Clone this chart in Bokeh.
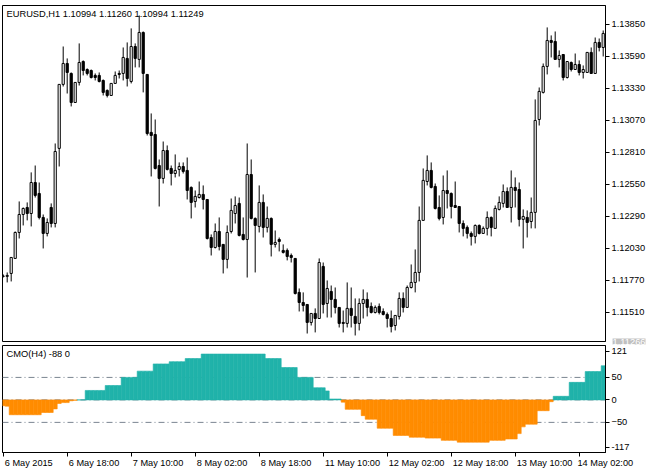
import json
from bokeh.plotting import figure
from bokeh.models import (Range1d, FixedTicker, NumeralTickFormatter, CustomJSTickFormatter,
                          Span, Label, Title, ColumnDataSource)
from bokeh.layouts import column
from bokeh.embed import file_html
from bokeh.resources import INLINE

# ---------------- data (EURUSD H1, 6 May 02:00 .. 14 May 08:00) ----------------
open_ = [
    1.11803, 1.11803, 1.11827, 1.11949, 1.12160, 1.12306, 1.12363, 1.12314, 1.12566, 1.12477,
    1.12282, 1.12152, 1.12363, 1.12233, 1.12843, 1.13363, 1.13533, 1.13452, 1.13216, 1.13379,
    1.13549, 1.13484, 1.13476, 1.13436, 1.13436, 1.13395, 1.13314, 1.13273, 1.13371, 1.13452,
    1.13452, 1.13574, 1.13387, 1.13671, 1.13566, 1.13785, 1.13444, 1.12973, 1.12956, 1.12704,
    1.12599, 1.12826, 1.12680, 1.12639, 1.12672, 1.12696, 1.12664, 1.12526, 1.12412, 1.12444,
    1.12469, 1.12428, 1.12119, 1.12038, 1.12168, 1.12063, 1.11941, 1.12168, 1.12314, 1.12396,
    1.12144, 1.12103, 1.12631, 1.12274, 1.12209, 1.12404, 1.12201, 1.12274, 1.12063, 1.12103,
    1.12014, 1.12014, 1.11973, 1.11949, 1.11673, 1.11591, 1.11575, 1.11429, 1.11502, 1.11461,
    1.11884, 1.11583, 1.11681, 1.11616, 1.11551, 1.11429, 1.11421, 1.11543, 1.11478, 1.11421,
    1.11583, 1.11616, 1.11559, 1.11510, 1.11559, 1.11518, 1.11494, 1.11461, 1.11404, 1.11478,
    1.11624, 1.11551, 1.11713, 1.11754, 1.11835, 1.12258, 1.12574, 1.12664, 1.12534, 1.12363,
    1.12282, 1.12501, 1.12477, 1.12379, 1.12371, 1.12233, 1.12201, 1.12152, 1.12128, 1.12217,
    1.12152, 1.12193, 1.12282, 1.12193, 1.12347, 1.12396, 1.12493, 1.12363, 1.12526, 1.12509,
    1.12266, 1.12282, 1.12249, 1.12323, 1.13078, 1.13298, 1.13509, 1.13720, 1.13712, 1.13566,
    1.13606, 1.13419, 1.13541, 1.13484, 1.13525, 1.13460, 1.13460, 1.13623, 1.13452, 1.13704,
    1.13663,
]
high = [
    1.11819, 1.11835, 1.11960, 1.12168, 1.12412, 1.12363, 1.12404, 1.12648, 1.12704, 1.12566,
    1.12306, 1.12274, 1.12396, 1.12883, 1.13365, 1.13671, 1.13574, 1.13460, 1.13381, 1.13696,
    1.13558, 1.13493, 1.13484, 1.13452, 1.13460, 1.13403, 1.13322, 1.13373, 1.13468, 1.13476,
    1.13663, 1.13704, 1.13818, 1.13696, 1.13923, 1.13793, 1.13446, 1.13127, 1.13078, 1.12753,
    1.12899, 1.12867, 1.12704, 1.12794, 1.12729, 1.12729, 1.12769, 1.12534, 1.12501, 1.12574,
    1.12542, 1.12430, 1.12144, 1.12233, 1.12282, 1.12065, 1.12217, 1.12436, 1.12453, 1.12444,
    1.12282, 1.12883, 1.12753, 1.12282, 1.12542, 1.12469, 1.12371, 1.12282, 1.12176, 1.12119,
    1.12063, 1.12030, 1.11989, 1.11951, 1.11705, 1.11673, 1.11577, 1.11504, 1.11543, 1.11949,
    1.11916, 1.11770, 1.11729, 1.11713, 1.11553, 1.11526, 1.11754, 1.11713, 1.11624, 1.11624,
    1.11697, 1.11673, 1.11591, 1.11567, 1.11583, 1.11543, 1.11510, 1.11526, 1.11488, 1.11673,
    1.11673, 1.11729, 1.11900, 1.12022, 1.12371, 1.12680, 1.12786, 1.12729, 1.12558, 1.12461,
    1.12623, 1.12664, 1.12485, 1.12574, 1.12373, 1.12258, 1.12217, 1.12168, 1.12225, 1.12225,
    1.12209, 1.12331, 1.12290, 1.12379, 1.12453, 1.12550, 1.12526, 1.12664, 1.12607, 1.12566,
    1.12347, 1.12339, 1.12444, 1.13241, 1.13338, 1.13533, 1.13826, 1.13761, 1.13793, 1.13639,
    1.13608, 1.13551, 1.13549, 1.13614, 1.13558, 1.13517, 1.13625, 1.13663, 1.13744, 1.13736,
    1.13801,
]
low = [
    1.11794, 1.11754, 1.11762, 1.11945, 1.12111, 1.12217, 1.12258, 1.12209, 1.12444, 1.12266,
    1.12030, 1.12128, 1.12201, 1.12201, 1.12696, 1.13346, 1.13289, 1.13184, 1.13214, 1.13354,
    1.13436, 1.13436, 1.13411, 1.13395, 1.13379, 1.13273, 1.13257, 1.13271, 1.13369, 1.13411,
    1.13395, 1.13346, 1.13371, 1.13501, 1.13501, 1.13298, 1.12948, 1.12615, 1.12672, 1.12371,
    1.12558, 1.12664, 1.12542, 1.12607, 1.12615, 1.12639, 1.12428, 1.12274, 1.12363, 1.12436,
    1.12347, 1.12103, 1.11973, 1.12030, 1.12014, 1.11827, 1.11868, 1.12152, 1.12233, 1.12128,
    1.12095, 1.11794, 1.12266, 1.11835, 1.12160, 1.12119, 1.12160, 1.11965, 1.12038, 1.12006,
    1.11989, 1.11933, 1.11916, 1.11656, 1.11518, 1.11518, 1.11339, 1.11404, 1.11348, 1.11459,
    1.11502, 1.11469, 1.11469, 1.11502, 1.11388, 1.11348, 1.11388, 1.11388, 1.11323, 1.11364,
    1.11461, 1.11478, 1.11502, 1.11502, 1.11494, 1.11486, 1.11388, 1.11348, 1.11364, 1.11453,
    1.11510, 1.11549, 1.11705, 1.11673, 1.11762, 1.12256, 1.12542, 1.12518, 1.12347, 1.12258,
    1.12225, 1.12355, 1.12274, 1.12361, 1.12160, 1.12128, 1.12111, 1.12054, 1.12071, 1.12144,
    1.12150, 1.12136, 1.12128, 1.12191, 1.12339, 1.12363, 1.12361, 1.12241, 1.12363, 1.12209,
    1.12030, 1.12119, 1.12193, 1.12193, 1.13029, 1.13289, 1.13444, 1.13582, 1.13564, 1.13501,
    1.13395, 1.13411, 1.13468, 1.13482, 1.13436, 1.13411, 1.13458, 1.13450, 1.13450, 1.13631,
    1.13590,
]
close = [
    1.11806, 1.11811, 1.11957, 1.12160, 1.12306, 1.12355, 1.12314, 1.12566, 1.12461, 1.12282,
    1.12152, 1.12241, 1.12233, 1.12818, 1.13363, 1.13533, 1.13460, 1.13216, 1.13379, 1.13541,
    1.13476, 1.13452, 1.13419, 1.13419, 1.13387, 1.13298, 1.13273, 1.13371, 1.13436, 1.13444,
    1.13582, 1.13411, 1.13671, 1.13574, 1.13785, 1.13452, 1.12964, 1.12948, 1.12680, 1.12599,
    1.12826, 1.12672, 1.12639, 1.12664, 1.12696, 1.12656, 1.12501, 1.12404, 1.12453, 1.12469,
    1.12428, 1.12111, 1.12038, 1.12168, 1.12046, 1.11941, 1.12160, 1.12339, 1.12379, 1.12136,
    1.12103, 1.12631, 1.12274, 1.12217, 1.12404, 1.12201, 1.12274, 1.12063, 1.12079, 1.12087,
    1.11998, 1.11965, 1.11957, 1.11664, 1.11591, 1.11567, 1.11429, 1.11502, 1.11461, 1.11916,
    1.11575, 1.11705, 1.11616, 1.11551, 1.11421, 1.11421, 1.11543, 1.11486, 1.11421, 1.11583,
    1.11616, 1.11551, 1.11510, 1.11551, 1.11510, 1.11494, 1.11461, 1.11396, 1.11486, 1.11624,
    1.11551, 1.11713, 1.11754, 1.11835, 1.12258, 1.12583, 1.12664, 1.12526, 1.12355, 1.12274,
    1.12501, 1.12477, 1.12371, 1.12363, 1.12233, 1.12193, 1.12152, 1.12128, 1.12217, 1.12152,
    1.12193, 1.12282, 1.12201, 1.12355, 1.12404, 1.12493, 1.12363, 1.12526, 1.12501, 1.12266,
    1.12290, 1.12241, 1.12323, 1.13070, 1.13306, 1.13509, 1.13720, 1.13704, 1.13566, 1.13598,
    1.13419, 1.13549, 1.13484, 1.13525, 1.13460, 1.13484, 1.13623, 1.13452, 1.13704, 1.13663,
    1.13777,
]
cmo = [
    -13, -14, -33, -33, -33, -33, -33, -33, -33, -33,
    -28, -28, -28, -20, -8, -6, -6, -2, -1, 0,
    0, 21, 21, 21, 21, 21, 32, 32, 32, 32,
    50, 50, 50, 50, 64, 64, 64, 64, 80, 80,
    80, 80, 85, 85, 85, 85, 92, 92, 92, 92,
    102, 102, 102, 102, 102, 102, 102, 102, 102, 102,
    102, 102, 102, 102, 102, 102, 92, 92, 92, 92,
    72, 72, 72, 72, 50, 50, 50, 50, 27, 27,
    27, 20, 2, 2, 2, -5, -21, -21, -21, -21,
    -35, -43, -43, -43, -63, -63, -63, -63, -79, -79,
    -79, -79, -83, -83, -83, -83, -85, -85, -85, -85,
    -90, -90, -90, -90, -94, -94, -94, -94, -94, -94,
    -94, -94, -90, -90, -90, -90, -87, -87, -87, -75,
    -60, -54, -54, -54, -24, -24, -24, -4, 8, 8,
    8, 8, 39, 39, 39, 39, 63, 63, 63, 63,
    76,
]
price_ticks = [1.13850, 1.13590, 1.13330, 1.13070, 1.12810, 1.12550, 1.12290, 1.12030, 1.11770, 1.11510]
cmo_levels = [50, 0, -50]
cmo_ticks = [108, 50, 0, -50, -105]
cmo_tick_labels = {108: "121", -105: "-117"}
date_ticks = [0, 16, 32, 48, 64, 80, 96, 112, 128, 144]
date_labels = ["6 May 2015", "6 May 18:00", "7 May 10:00", "8 May 02:00", "8 May 18:00",
               "11 May 10:00", "12 May 02:00", "12 May 18:00", "13 May 10:00", "14 May 02:00"]
title_text = "EURUSD,H1  1.10994 1.11260 1.10994 1.11249"
cmo_title = "CMO(H4) -88 0"
bid_price = 1.11266

# ---------------- styling / layout ----------------
FONT = "Liberation Sans"
FS_PX = 9.3
FS = f"{FS_PX}px"
DATE_PX = 9.2
W = 654
LB, RB = 2, 49
MAIN_TOP, MAIN_FRAME, MAIN_BOT = 5, 336, 4
MAIN_H = MAIN_TOP + MAIN_FRAME + MAIN_BOT
SUB_TOP, SUB_BOT = 0, 17
SUB_H = 470 - MAIN_H
UP, DN = "#20B2AA", "#FF8C00"
LEVEL = "#7a8591"
frame_w = W - LB - RB
X0 = -0.175
X1 = X0 + frame_w / 4.0
ppb = frame_w / (X1 - X0)
PRICE_LO = 1.11266 + 0.00008125  # one pixel row kept for the bottom edge
PRICE_HI = 1.14004

# left-aligned date labels: the axis centres each label, so centre it half a label width right of its tick
CW = {" ": 0.278, ":": 0.278, "M": 0.833, "a": 0.556, "y": 0.5}
def text_w(s):
    return sum(CW.get(ch, 0.556) for ch in s) * DATE_PX
label_pos = [min(k + (text_w(s) / 2 + 1.5) / ppb, X1 - 0.05) for k, s in zip(date_ticks, date_labels)]

idx = list(range(len(close)))
body_top = [max(o, c) for o, c in zip(open_, close)]
body_bot = [min(o, c) for o, c in zip(open_, close)]
body_fill = ["white" if c >= o else "black" for o, c in zip(open_, close)]
src = ColumnDataSource(dict(x=idx, o=open_, h=high, l=low, c=close,
                            bt=body_top, bb=body_bot, fill=body_fill))

xr = Range1d(X0, X1)

def style_axis(ax):
    ax.axis_line_color = "black"
    ax.major_tick_line_color = "black"
    ax.major_tick_in = 0
    ax.major_tick_out = 4
    ax.minor_tick_line_color = None
    ax.major_label_standoff = 2
    ax.major_label_text_font = FONT
    ax.major_label_text_font_size = FS
    ax.major_label_text_color = "black"

# ---------------- main (candles) ----------------
main = figure(width=W, height=MAIN_H, x_range=xr, y_range=Range1d(PRICE_LO, PRICE_HI),
              x_axis_location=None, y_axis_location="right",
              output_backend="svg", toolbar_location=None,
              min_border_left=LB, min_border_right=RB, min_border_top=MAIN_TOP, min_border_bottom=MAIN_BOT)
main.grid.visible = False
main.outline_line_color = "black"
main.outline_line_alpha = 1.0
main.outline_line_width = 1
main.background_fill_color = "white"
main.border_fill_color = "white"
ya = main.yaxis[0]
ya.ticker = FixedTicker(ticks=price_ticks)
ya.formatter = NumeralTickFormatter(format="0.00000")
style_axis(ya)

main.segment(x0="x", y0="l", x1="x", y1="h", source=src, line_color="black", line_width=1)
main.vbar(x="x", top="bt", bottom="bb", width=0.55, source=src,
          fill_color="fill", line_color="black", line_width=1)

main.add_layout(Label(x=4, y=PRICE_HI, x_units="screen", y_units="data", y_offset=-3,
                      text=title_text, text_font=FONT, text_font_size=FS,
                      text_baseline="top", text_align="left", text_color="black"))

# bid price box on the price scale, at the bottom edge of the price window
bid = Title(text=f"{bid_price:.5f}", align="right", vertical_align="middle",
            offset=-40, standoff=-11,
            text_font=FONT, text_font_size=FS, text_font_style="normal",
            text_color="white", background_fill_color="#c0c0c0", background_fill_alpha=1.0)
main.add_layout(bid, "below")

# ---------------- sub (CMO histogram) ----------------
sub = figure(width=W, height=SUB_H, x_range=xr, y_range=Range1d(-117, 121),
             x_axis_location="below", y_axis_location="right",
             output_backend="svg", toolbar_location=None,
             min_border_left=LB, min_border_right=RB, min_border_top=SUB_TOP, min_border_bottom=SUB_BOT)
sub.grid.visible = False
sub.outline_line_color = "black"
sub.outline_line_alpha = 1.0
sub.background_fill_color = "white"
sub.border_fill_color = "white"

sya = sub.yaxis[0]
sya.ticker = FixedTicker(ticks=cmo_ticks)
sya.major_label_overrides = cmo_tick_labels
style_axis(sya)

sxa = sub.xaxis[0]
sxa.ticker = FixedTicker(ticks=label_pos, minor_ticks=date_ticks)
sxa.formatter = CustomJSTickFormatter(code=(
    "const c = %s; const l = %s;"
    "let b = -1, d = 1e9;"
    "for (let i = 0; i < c.length; i++) { const e = Math.abs(c[i] - tick); if (e < d) { d = e; b = i; } }"
    "return d < 0.01 ? l[b] : '';") % (json.dumps(label_pos), json.dumps(date_labels)))
style_axis(sxa)
sxa.major_label_text_font_size = f"{DATE_PX}px"
sxa.major_tick_line_color = None
sxa.minor_tick_line_color = "black"
sxa.minor_tick_in = 0
sxa.minor_tick_out = 4
sxa.major_label_standoff = 1

for lv in cmo_levels:
    sub.add_layout(Span(location=lv, dimension="width", line_color=LEVEL, line_width=1,
                        line_dash="6 3 1 3", level="underlay"))

hist_color = [UP if v >= 0 else DN for v in cmo]
hsrc = ColumnDataSource(dict(x=idx, v=cmo, col=hist_color))
sub.vbar(x="x", top="v", bottom=0, width=1.0, source=hsrc, fill_color="col",
         line_color="col", line_width=0.6)

sub.add_layout(Label(x=4, y=121, x_units="screen", y_units="data", y_offset=-3,
                     text=cmo_title, text_font=FONT, text_font_size=FS,
                     text_baseline="top", text_align="left", text_color="black"))

layout = column(main, sub, spacing=0)
open("out.html", "w").write(file_html(layout, INLINE))
